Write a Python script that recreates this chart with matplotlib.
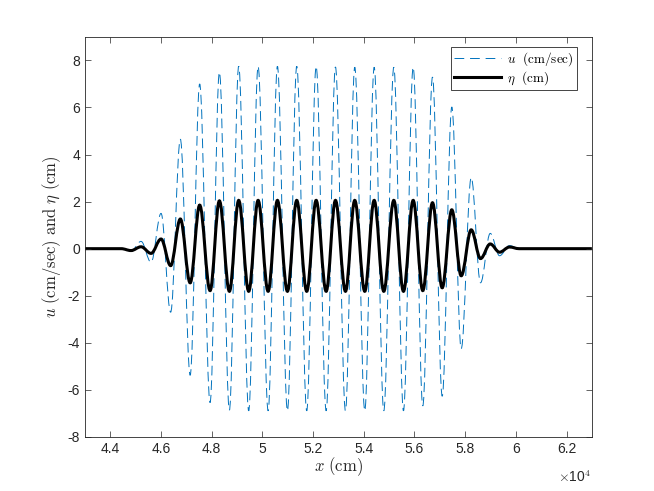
import matplotlib
matplotlib.use("Agg")
import matplotlib.pyplot as plt
from matplotlib.path import Path
from matplotlib.patches import PathPatch
from matplotlib.lines import Line2D

# extrema of the wave packet (x in cm)
x_ext = [43000, 44430, 44816, 45211, 45606, 46000, 46379, 46762, 47149, 47524,
         47935, 48302, 48697, 49064, 49459, 49830, 50225, 50592, 50987, 51354,
         51749, 52120, 52515, 52882, 53277, 53644, 54039, 54410, 54789, 55184,
         55566, 55949, 56328, 56711, 57094, 57473, 57844, 58239, 58606, 58989,
         59357, 59751, 60130, 63000]

eta_ext = [0, 0, -0.08, 0.08, -0.2, 0.41, -0.72, 1.26, -1.45, 1.85,
           -1.78, 2.03, -1.81, 2.05, -1.81, 2.05, -1.81, 2.05, -1.81, 2.05,
           -1.81, 2.05, -1.81, 2.05, -1.81, 2.05, -1.81, 2.05, -1.81, 2.05,
           -1.81, 2.05, -1.78, 1.95, -1.66, 1.65, -1.15, 0.8, -0.42, 0.2,
           -0.15, 0.07, 0, 0]

u_ext = [0, 0, -0.1, 0.31, -0.58, 1.5, -2.7, 4.65, -5.38, 7.0,
         -6.54, 7.5, -6.86, 7.75, -6.89, 7.75, -6.89, 7.75, -6.89, 7.75,
         -6.89, 7.75, -6.89, 7.72, -6.89, 7.71, -6.89, 7.71, -6.89, 7.71,
         -6.89, 7.71, -6.68, 7.29, -6.27, 6.02, -4.25, 3.02, -1.45, 0.65,
         -0.3, 0.13, 0, 0]

x_ticks = [44000, 46000, 48000, 50000, 52000, 54000, 56000, 58000, 60000, 62000]
x_tick_labels = ['4.4', '4.6', '4.8', '5', '5.2', '5.4', '5.6', '5.8', '6', '6.2']
y_ticks = [-8, -6, -4, -2, 0, 2, 4, 6, 8]
y_tick_labels = ['-8', '-6', '-4', '-2', '0', '2', '4', '6', '8']


def wave_path(xs, ys):
    # smooth curve through the extrema, flat tangent at each one
    verts = [(xs[0], ys[0])]
    codes = [Path.MOVETO]
    for i in range(1, len(xs)):
        dx = xs[i] - xs[i - 1]
        verts += [(xs[i - 1] + 0.364 * dx, ys[i - 1]),
                  (xs[i] - 0.364 * dx, ys[i]),
                  (xs[i], ys[i])]
        codes += [Path.CURVE4] * 3
    return Path(verts, codes)


plt.rcParams['font.family'] = ['Liberation Sans', 'DejaVu Sans']
plt.rcParams['mathtext.fontset'] = 'cm'

fig = plt.figure(figsize=(6.54, 4.91), dpi=100)
ax = fig.add_axes([0.13, 0.11, 0.775, 0.815])

blue = '#0072BD'
dark = '#262626'

ax.add_patch(PathPatch(wave_path(x_ext, u_ext), fill=False, edgecolor=blue,
                       linewidth=0.7, linestyle=(0, (10, 5))))
ax.add_patch(PathPatch(wave_path(x_ext, eta_ext), fill=False, edgecolor='black',
                       linewidth=2.2))

ax.set_xlim(43000, 63000)
ax.set_ylim(-8, 9)
ax.set_xticks(x_ticks)
ax.set_xticklabels(x_tick_labels)
ax.set_yticks(y_ticks)
ax.set_yticklabels(y_tick_labels)

ax.tick_params(direction='in', top=True, right=True, length=4, width=0.5,
               colors=dark, labelsize=10, labelcolor=dark)
for s in ax.spines.values():
    s.set_linewidth(0.6)
    s.set_color(dark)

ax.text(1.0, -0.1, r'$\times$10$^4$', transform=ax.transAxes, ha='right',
        va='center', fontsize=10, color=dark)

ax.set_xlabel(r'$x\ \mathrm{(cm)}$', fontsize=12, color=dark)
ax.set_ylabel(r'$u\ \mathrm{(cm/sec)\ and}\ \eta\ \mathrm{(cm)}$', fontsize=12,
              color=dark)
ax.xaxis.set_label_coords(0.5, -0.045)
ax.yaxis.set_label_coords(-0.043, 0.5)

handles = [Line2D([], [], color=blue, linewidth=0.7, linestyle=(0, (10, 6))),
           Line2D([], [], color='black', linewidth=2.2)]
leg = ax.legend(handles, [r'$u\ \ \mathrm{(cm/sec)}$', r'$\eta\ \ \mathrm{(cm)}$'],
                loc='upper right', bbox_to_anchor=(0.970, 0.975), borderaxespad=0,
                fontsize=9.5, handlelength=3.6, fancybox=False, framealpha=1,
                edgecolor=dark, handletextpad=0.4, borderpad=0.25,
                labelspacing=0.1)
leg.get_frame().set_linewidth(0.6)

fig.savefig('out.png', dpi=100)
